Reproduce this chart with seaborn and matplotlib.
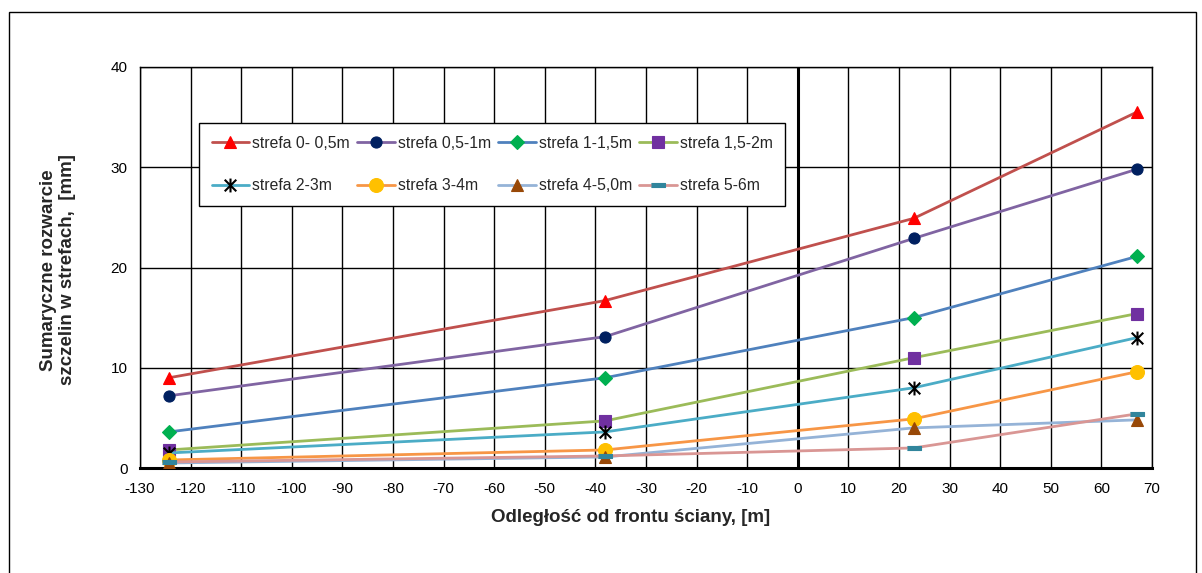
import matplotlib
matplotlib.use("Agg")
import matplotlib.pyplot as plt
from matplotlib.patches import Rectangle
from matplotlib.path import Path
import numpy as np
import pandas as pd
import seaborn as sns

# distance from the longwall face, [m]
distance = [-124.3, -38.1, 22.9, 67.0]

# summed fracture opening per zone, [mm]
zone_0_05 = [9.0, 16.7, 24.9, 35.5]
zone_05_1 = [7.2, 13.1, 22.9, 29.8]
zone_1_15 = [3.6, 9.0, 15.0, 21.1]
zone_15_2 = [1.8, 4.7, 11.0, 15.4]
zone_2_3 = [1.5, 3.6, 8.0, 13.0]
zone_3_4 = [0.8, 1.8, 4.9, 9.6]
zone_4_5 = [0.5, 1.1, 4.0, 4.8]
zone_5_6 = [0.6, 1.2, 2.0, 5.4]

labels = ["strefa 0- 0,5m", "strefa 0,5-1m", "strefa 1-1,5m", "strefa 1,5-2m",
          "strefa 2-3m", "strefa 3-4m", "strefa 4-5,0m", "strefa 5-6m"]
series = [zone_0_05, zone_05_1, zone_1_15, zone_15_2,
          zone_2_3, zone_3_4, zone_4_5, zone_5_6]

x_ticks = list(range(-130, 71, 10))
y_ticks = [0, 10, 20, 30, 40]

# custom markers: asterisk (x with a vertical bar) and a short flat dash
star = Path([(-1, -1), (1, 1), (-1, 1), (1, -1), (0, -1.2), (0, 1.2)],
            [Path.MOVETO, Path.LINETO, Path.MOVETO, Path.LINETO, Path.MOVETO, Path.LINETO])
dash = [(-1, -0.28), (1, -0.28), (1, 0.28), (-1, 0.28)]

line_colors = ["#C0504D", "#8064A2", "#4F81BD", "#9BBB59",
               "#4BACC6", "#F79646", "#95B3D7", "#D99694"]
marker_colors = ["#FF0000", "#002060", "#00B050", "#7030A0",
                 "#000000", "#FFC000", "#984807", "#31859C"]
markers = ["^", "o", "D", "s", star, "o", "^", dash]
marker_sizes = [9, 8, 7, 8, 10, 10, 9, 10]

sns.set_theme(style="white")
plt.rcParams["font.family"] = ["Liberation Sans", "DejaVu Sans"]
plt.rcParams["axes.unicode_minus"] = False

fig = plt.figure(figsize=(12.02, 5.73), dpi=100)
W, H = 1202, 573
ax = fig.add_axes([140 / W, 1 - 468 / H, (1152 - 140) / W, (468 - 67) / H])

for lab, vals, lc, mc, mk, ms in zip(labels, series, line_colors, marker_colors,
                                     markers, marker_sizes):
    df = pd.DataFrame({"x": distance, "y": vals})
    sns.lineplot(data=df, x="x", y="y", ax=ax, color=lc, linewidth=2.0,
                 marker=mk, markersize=ms, markerfacecolor=mc,
                 markeredgecolor=mc, markeredgewidth=1.5 if mk is star else 0.8,
                 label=lab, legend=False, sort=False, zorder=3)

ax.set_xlim(-130, 70)
ax.set_ylim(0, 40)
ax.set_xticks(x_ticks)
ax.set_yticks(y_ticks)
ax.set_xticklabels([str(v) for v in x_ticks])
ax.set_yticklabels([str(v) for v in y_ticks])
ax.grid(True, color="black", linewidth=1.0)
ax.set_axisbelow(True)
ax.axvline(0, color="black", linewidth=2.2, zorder=2)

for side in ["left", "right", "top"]:
    ax.spines[side].set_color("black")
    ax.spines[side].set_linewidth(1.0)
ax.spines["bottom"].set_color("black")
ax.spines["bottom"].set_linewidth(2.2)

ax.tick_params(axis="x", direction="out", length=3, width=2, color="black",
               labelsize=11, pad=7, labelcolor="black")
ax.tick_params(axis="y", length=0, labelsize=11, pad=9, labelcolor="black")
ax.set_xlabel("")
ax.set_ylabel("")

fig.text(58 / W, 1 - 270 / H, "Sumaryczne rozwarcie\nszczelin w strefach,  [mm]",
         rotation=90, ha="center", va="center", fontsize=13.5, fontweight="bold",
         linespacing=1.15)
fig.text(631 / W, 1 - 517 / H, "Odległość od frontu ściany, [m]",
         ha="center", va="center", fontsize=13.5, fontweight="bold")

handles, labs = ax.get_legend_handles_labels()
order = [0, 4, 1, 5, 2, 6, 3, 7]
leg = ax.legend([handles[i] for i in order], [labs[i] for i in order],
                ncol=4, loc="upper left",
                bbox_to_anchor=(199 / W, 1 - 123 / H), bbox_transform=fig.transFigure,
                frameon=True, fancybox=False, framealpha=1, edgecolor="black",
                fontsize=11.3, handlelength=2.4, handletextpad=0.2,
                columnspacing=0.45, labelspacing=1.75, borderpad=0.8,
                borderaxespad=0, numpoints=1)
leg.get_frame().set_linewidth(1.0)

# outer chart border
fig.patches.append(Rectangle((9 / W, -0.05), (1196 - 9) / W, 1.05 - 12 / H,
                             transform=fig.transFigure, fill=False,
                             edgecolor="black", linewidth=1.0))

fig.savefig("out.png", dpi=100)
